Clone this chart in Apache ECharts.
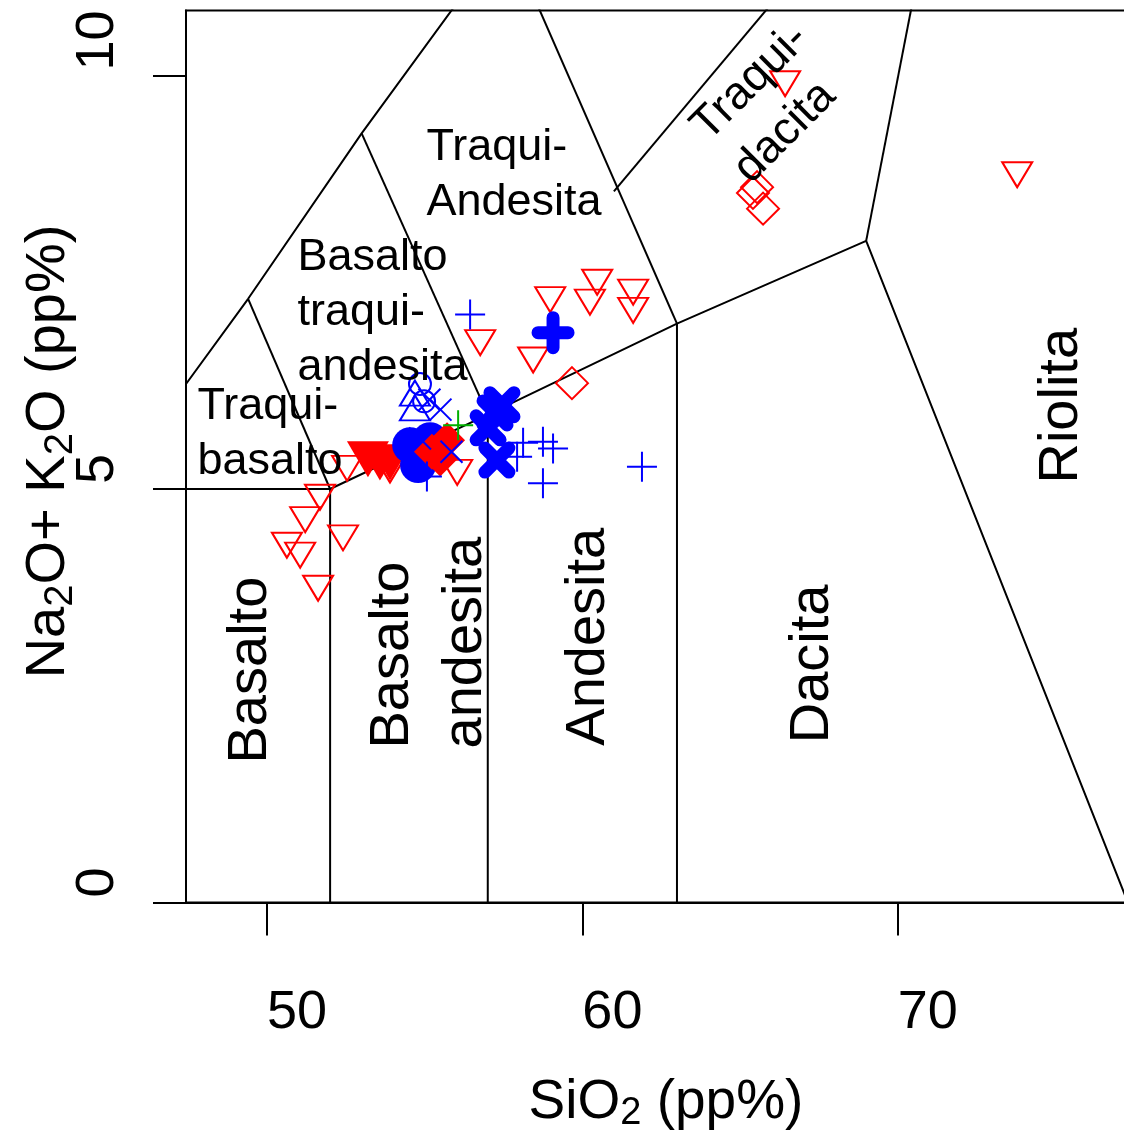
<!DOCTYPE html>
<html>
<head>
<meta charset="utf-8">
<script src="https://cdn.jsdelivr.net/npm/echarts@6/dist/echarts.min.js"></script>
<style>
html,body{margin:0;padding:0;background:#fff;}
#chart{width:1124px;height:1137px;}
</style>
</head>
<body>
<div id="chart"></div>
<script>
// ---------- axes ----------
const xTicks = [50, 60, 70];
const yTicks = [0, 5, 10];
const xRange = [47.43, 77.24];
const yRange = [0, 10.786];

// ---------- TAS field boundaries (SiO2, Na2O+K2O) ----------
const boundaryLines = [
  [[45, 5], [52, 5]],
  [[52, 0], [52, 5]],
  [[57, 0], [57, 5.9]],
  [[63, 0], [63, 7]],
  [[52, 5], [57, 5.9], [63, 7], [69, 8], [77.3, 0]],
  [[45, 5], [49.4, 7.3], [53, 9.3], [57.6, 11.7]],
  [[52, 5], [49.4, 7.3]],
  [[57, 5.9], [53, 9.3]],
  [[63, 7], [57.6, 11.7]],
  [[61, 8.6], [71.8, 13.5]],
  [[69, 8], [71.8, 13.5]]
];

// ---------- field names ----------
const fieldLabelsHorizontal = [
  ['Traqui-\nAndesita', 55.07, 9.46],
  ['Basalto\ntraqui-\nandesita', 50.98, 8.13],
  ['Traqui-\nbasalto', 47.81, 6.32]
];
const fieldLabelsVertical = [
  ['Basalto', 48.35, 1.675],
  ['Basalto\nandesita', 52.85, 1.856],
  ['Andesita', 59.07, 1.89],
  ['Dacita', 66.17, 1.92],
  ['Riolita', 74.04, 5.06]
];
const fieldLabelsDiagonal = [
  ['Traqui-\ndacita', 63.05, 9.55]
];

// ---------- samples ----------
const redOpenTriangles = [
  [66.43, 9.90], [73.79, 8.80], [60.47, 7.50], [58.98, 7.29], [60.24, 7.26],
  [61.61, 7.38], [61.61, 7.16], [56.76, 6.77], [58.44, 6.56], [56.03, 5.20],
  [53.90, 5.23], [52.54, 5.25], [51.68, 4.90], [51.21, 4.63], [52.41, 4.41],
  [50.63, 4.32], [51.05, 4.20], [51.62, 3.80]
];
const redFilledTriangles = [[53.20, 5.36], [53.58, 5.32], [53.90, 5.32]];
const blueFilledCircles = [[54.54, 5.53], [55.01, 5.45], [54.79, 5.29], [55.17, 5.59]];
const redFilledDiamonds = [[55.23, 5.45], [55.71, 5.59], [55.49, 5.37]];
const blueOpenTriangles = [[54.69, 6.16], [54.69, 5.98]];
const blueOpenCircles = [[54.85, 6.27], [54.98, 6.06]];
const blueCrosses = [[55.15, 6.08], [55.50, 5.96], [54.85, 5.61], [55.85, 5.45]];
const bluePlus = [
  [56.44, 7.11], [58.12, 5.56], [58.75, 5.57], [59.07, 5.49], [58.75, 5.07],
  [61.89, 5.27], [57.93, 5.39], [55.07, 5.15]
];
const blueBoldX = [[57.29, 5.35], [57.23, 5.92], [57.45, 6.02], [57.01, 5.74]];
const blueBoldPlus = [[59.07, 6.89]];
const redOpenDiamonds = [[65.41, 8.58], [65.54, 8.65], [65.73, 8.39], [59.67, 6.28]];
const greenPlus = [[56.06, 5.77]];

// ---------- chart ----------
const FONT = '"Liberation Sans", Arial, Helvetica, sans-serif';
const RED = '#ff0000', BLUE = '#0000ff', GREEN = '#00b000';
const PLUS = 'path://M0,5L10,5M5,0L5,10';
const CROSS = 'path://M0,0L10,10M10,0L0,10';

const chart = echarts.init(document.getElementById('chart'), null, {renderer: 'canvas'});

const series = [];
boundaryLines.forEach(function (pts) {
  series.push({
    type: 'line', data: pts, showSymbol: false, silent: true, clip: true,
    lineStyle: {color: '#000', width: 2}, z: 1, animation: false
  });
});

function pointSeries(data, symbol, size, fill, stroke, bw, extra) {
  return Object.assign({
    type: 'scatter', data: data, symbol: symbol, symbolSize: size,
    itemStyle: {color: fill, borderColor: stroke, borderWidth: bw, opacity: 1},
    silent: true, z: 3, animation: false
  }, extra || {});
}

series.push(pointSeries(redOpenTriangles, 'triangle', [30, 25], 'none', RED, 2, {symbolRotate: 180}));
series.push(pointSeries(redFilledTriangles, 'triangle', [42, 36], RED, RED, 0, {symbolRotate: 180}));
series.push(pointSeries(blueFilledCircles, 'circle', 36, BLUE, BLUE, 0));
series.push(pointSeries(redFilledDiamonds, 'diamond', 36, RED, RED, 0));
series.push(pointSeries(blueOpenTriangles, 'triangle', [30, 25], 'none', BLUE, 2));
series.push(pointSeries(blueOpenCircles, 'circle', 22, 'none', BLUE, 2));
series.push(pointSeries(blueCrosses, CROSS, 22, 'none', BLUE, 2));
series.push(pointSeries(bluePlus, PLUS, 30, 'none', BLUE, 2));
series.push(pointSeries(blueBoldX, CROSS, 24, 'none', BLUE, 13));
series[series.length - 1].itemStyle.borderCap = 'round';
series.push(pointSeries(blueBoldPlus, PLUS, 30, 'none', BLUE, 13));
series[series.length - 1].itemStyle.borderCap = 'round';
series.push(pointSeries(redOpenDiamonds, 'diamond', 32, 'none', RED, 2));
series.push(pointSeries(greenPlus, PLUS, 30, 'none', GREEN, 2));

function labelSeries(items, rotate, fontSize, lineHeight) {
  return {
    type: 'scatter', silent: true, z: 5, animation: false,
    symbolSize: 1, itemStyle: {color: 'rgba(255,255,255,0)'},
    data: items.map(function (d) { return {name: d[0], value: [d[1], d[2]]}; }),
    label: {
      show: true, formatter: '{b}', position: [0, 0], rotate: rotate,
      align: 'left', verticalAlign: 'top', opacity: 1,
      color: '#000000', textBorderWidth: 0,
      fontFamily: FONT, fontSize: fontSize, lineHeight: lineHeight
    }
  };
}
series.push(labelSeries(fieldLabelsHorizontal, 0, 45, 55));
series.push(labelSeries(fieldLabelsVertical, 90, 56, 73));
series.push(labelSeries(fieldLabelsDiagonal, 45, 46, 60));

chart.setOption({
  backgroundColor: '#fff',
  animation: false,
  grid: {
    left: 186, top: 10.5, right: -2, bottom: 234.5,
    outerBoundsMode: 'none', containLabel: false,
    show: true, borderColor: '#000', borderWidth: 2, backgroundColor: 'rgba(0,0,0,0)'
  },
  xAxis: {
    type: 'value', min: xRange[0], max: xRange[1],
    name: '{n|SiO}{s|2}{n| (pp%)}',
    nameLocation: 'middle', nameGap: 170, nameMoveOverlap: false,
    nameTextStyle: {
      padding: [0, 0, 0, 20],
      rich: {
        n: {fontSize: 55, fontFamily: FONT, color: '#000', lineHeight: 60},
        s: {fontSize: 38, fontFamily: FONT, color: '#000', lineHeight: 60, verticalAlign: 'bottom', padding: [22, 0, 0, 0]}
      }
    },
    axisLine: {show: true, onZero: false, lineStyle: {color: '#000', width: 2}},
    axisTick: {show: true, customValues: xTicks, length: 33, lineStyle: {color: '#000', width: 2}},
    axisLabel: {
      show: true, customValues: xTicks, align: 'left', verticalAlign: 'top',
      margin: 84, fontSize: 54, fontFamily: FONT, color: '#000'
    },
    splitLine: {show: false}
  },
  yAxis: {
    type: 'value', min: yRange[0], max: yRange[1],
    name: '{n|Na}{s|2}{n|O+ K}{s|2}{n|O (pp%)}',
    nameLocation: 'middle', nameGap: 105, nameRotate: 90, nameMoveOverlap: false,
    nameTextStyle: {
      padding: [0, 0, 0, 10],
      rich: {
        n: {fontSize: 56, fontFamily: FONT, color: '#000', lineHeight: 64},
        s: {fontSize: 40, fontFamily: FONT, color: '#000', lineHeight: 64, verticalAlign: 'bottom', padding: [24, 0, 0, 0]}
      }
    },
    axisLine: {show: true, onZero: false, lineStyle: {color: '#000', width: 2}},
    axisTick: {show: true, customValues: yTicks, length: 33, lineStyle: {color: '#000', width: 2}},
    axisLabel: {
      show: true, customValues: yTicks, rotate: 90, align: 'left', verticalAlign: 'bottom',
      margin: 61, fontSize: 54, fontFamily: FONT, color: '#000', padding: [0, 0, 0, 5]
    },
    splitLine: {show: false}
  },
  series: series
});
</script>
</body>
</html>
